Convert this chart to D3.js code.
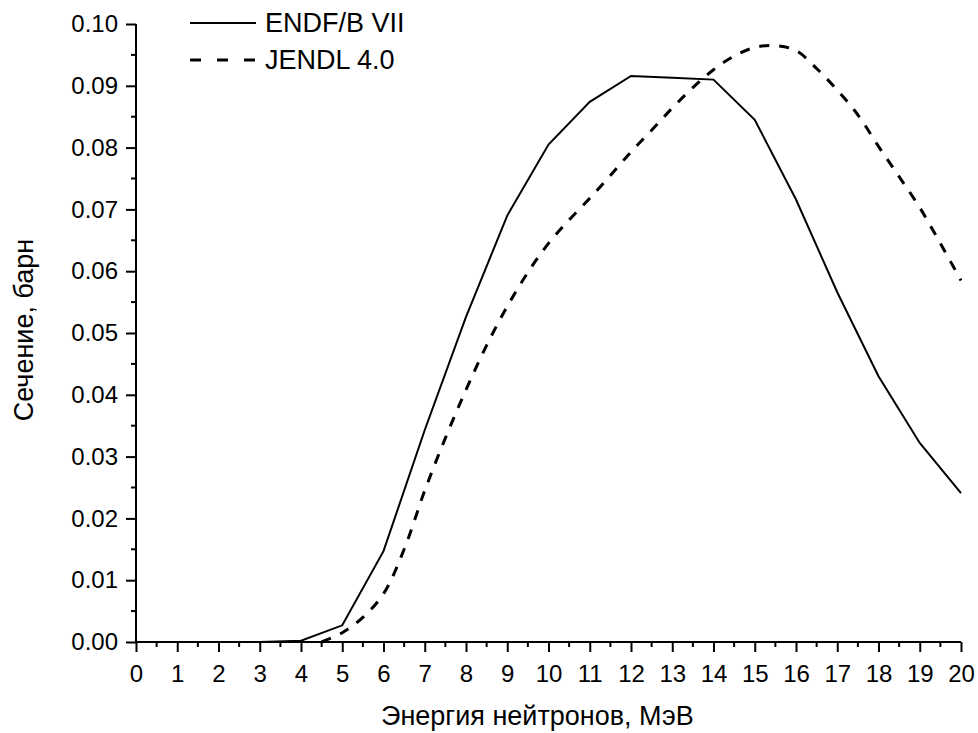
<!DOCTYPE html>
<html>
<head>
<meta charset="utf-8">
<script src="https://cdn.jsdelivr.net/npm/d3@7"></script>
<style>
  body { margin: 0; background: #fff; }
  svg text { font-family: "Liberation Sans", Arial, sans-serif; fill: #000; }
</style>
</head>
<body>
<script>
// ENDF/B VII, points at 0..20 MeV
const endfE = [0,1,2,3,4,5,6,7,8,9,10,11,12,13,14,15,16,17,18,19,20];
const endfSigma = [0,0,0,0,0.0002,0.0027,0.0147,0.0343,0.0526,0.069,0.0805,0.0874,0.0916,0.0913,0.0910,0.0845,0.0716,0.0566,0.043,0.0322,0.0241];

// JENDL 4.0
const jendlE = [4.5,5,5.5,6,6.5,7,7.5,8,8.5,9,9.5,10,10.5,11,11.5,12,12.5,13,13.5,14,14.5,15,15.5,16,16.5,17,17.5,18,18.5,19,19.5,20];
const jendlSigma = [0,0.0015,0.004,0.0078,0.015,0.0245,0.033,0.0408,0.048,0.0543,0.0598,0.0645,0.0683,0.0718,0.0755,0.0793,0.0828,0.0864,0.0897,0.0926,0.0948,0.0962,0.0965,0.0957,0.0928,0.0893,0.0853,0.0802,0.0753,0.0703,0.0645,0.0585];

const xTicks = d3.range(0, 21, 1);
const yTicks = [0,0.01,0.02,0.03,0.04,0.05,0.06,0.07,0.08,0.09,0.10];
const legendNames = ["ENDF/B VII", "JENDL 4.0"];

const width = 978, height = 733;
const plotLeft = 136, plotRight = 961, plotTop = 24, plotBottom = 642;

const svg = d3.select("body").append("svg")
  .attr("width", width)
  .attr("height", height);

const x = d3.scaleLinear().domain([0, 20]).range([plotLeft, plotRight]);
const y = d3.scaleLinear().domain([0, 0.10]).range([plotBottom, plotTop]);

// lines
const line = d3.line().x(d => x(d[0])).y(d => y(d[1]));

svg.append("path")
  .datum(endfE.map((e, i) => [e, endfSigma[i]]))
  .attr("d", line)
  .attr("fill", "none")
  .attr("stroke", "#000")
  .attr("stroke-width", 2);

svg.append("path")
  .datum(jendlE.map((e, i) => [e, jendlSigma[i]]))
  .attr("d", d3.line().curve(d3.curveCatmullRom).x(d => x(d[0])).y(d => y(d[1])))
  .attr("fill", "none")
  .attr("stroke", "#000")
  .attr("stroke-width", 3)
  .attr("stroke-dasharray", "10,10");

// x axis
const xAxis = svg.append("g")
  .attr("transform", "translate(0," + plotBottom + ")")
  .call(d3.axisBottom(x).tickValues(xTicks).tickFormat(d3.format("d")).tickSize(10).tickPadding(13));
xAxis.selectAll("line.minor")
  .data(d3.range(0.5, 20, 1)).enter()
  .append("line")
  .attr("class", "minor")
  .attr("x1", d => x(d)).attr("x2", d => x(d))
  .attr("y1", 0).attr("y2", 5)
  .attr("stroke", "#000").attr("stroke-width", 2);

// y axis
const yAxis = svg.append("g")
  .attr("transform", "translate(" + plotLeft + ",0)")
  .call(d3.axisLeft(y).tickValues(yTicks).tickFormat(d3.format(".2f")).tickSize(10).tickPadding(8));
yAxis.selectAll("line.minor")
  .data(d3.range(0.005, 0.1, 0.01)).enter()
  .append("line")
  .attr("class", "minor")
  .attr("x1", 0).attr("x2", -5)
  .attr("y1", d => y(d)).attr("y2", d => y(d))
  .attr("stroke", "#000").attr("stroke-width", 2);

[xAxis, yAxis].forEach(a => {
  a.select(".domain").attr("stroke-width", 2);
  a.selectAll(".tick line").attr("stroke-width", 2);
  a.selectAll(".tick text").style("font-size", "24px");
});
// plain axis lines (no end caps)
xAxis.select(".domain").attr("d", "M" + plotLeft + ",0H" + plotRight);
yAxis.select(".domain").attr("d", "M0," + plotBottom + "V" + plotTop);

// axis titles
svg.append("text")
  .attr("x", 381)
  .attr("y", 725)
  .style("font-size", "27px")
  .text("Энергия нейтронов, МэВ");

svg.append("text")
  .attr("transform", "translate(33,330) rotate(-90)")
  .attr("text-anchor", "middle")
  .style("font-size", "27px")
  .text("Сечение, барн");

// legend
const legend = svg.append("g");
legendNames.forEach((name, i) => {
  const ly = 23 + i * 37;
  legend.append("line")
    .attr("x1", 190).attr("x2", 256)
    .attr("y1", ly).attr("y2", ly)
    .attr("stroke", "#000")
    .attr("stroke-width", i === 0 ? 2 : 3)
    .attr("stroke-dasharray", i === 0 ? null : "11,16");
  legend.append("text")
    .attr("x", 265).attr("y", ly)
    .attr("dy", "0.35em")
    .style("font-size", "27px")
    .text(name);
});
</script>
</body>
</html>
